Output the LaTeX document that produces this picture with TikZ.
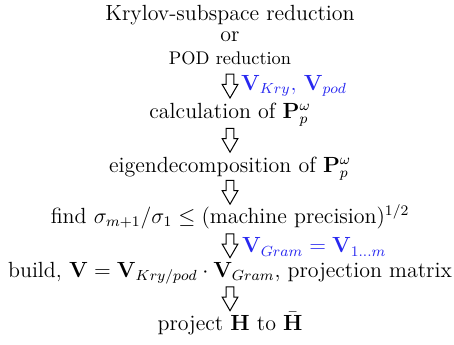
\documentclass[tikz,border=0pt]{standalone}
\usepackage{amsmath}
\usetikzlibrary{shapes.arrows}
\definecolor{lblblue}{RGB}{40,40,240}
\tikzset{
  txt/.style={anchor=base, inner sep=0pt, font=\large},
  darr/.style={single arrow, draw=black, fill=white, line width=0.55pt, shape border rotate=270,
    minimum height=13pt, minimum width=8pt, single arrow head extend=2.2pt,
    single arrow tip angle=60, inner sep=1.8pt},
  lbl/.style={anchor=base west, inner sep=0pt, text=lblblue, font=\large}
}
\begin{document}
\begin{tikzpicture}[x=1pt,y=1pt]
\useasboundingbox (0,0) rectangle (248.1,-188.5);
\node[txt] (kry) at (125.7,-10.93) {Krylov-subspace reduction};
\node[txt] (or) at (125.7,-22.79) {or};
\node[txt,font=\normalsize] (pod) at (125.7,-35.14) {POD reduction};
\node[darr] (a1) at (125.7,-45.27) {};
\node[lbl] (l1) at (131.6,-49.56) {$\mathbf{V}_{Kry},\,\mathbf{V}_{pod}$};
\node[txt] (calc) at (125.7,-64.48) {calculation of $\mathbf{P}_p^{\omega}$};
\node[darr] (a2) at (125.7,-74.86) {};
\node[txt] (eig) at (125.7,-93.99) {eigendecomposition of $\mathbf{P}_p^{\omega}$};
\node[darr] (a3) at (125.7,-103.28) {};
\node[txt] (find) at (125.7,-121.86) {find $\sigma_{m+1}/\sigma_1 \leq (\text{machine precision})^{1/2}$};
\node[darr] (a4) at (125.7,-132.51) {};
\node[lbl] (l4) at (132.1,-138.25) {$\mathbf{V}_{Gram}=\mathbf{V}_{1\ldots m}$};
\node[txt] (build) at (125.7,-151.37) {build, $\mathbf{V}=\mathbf{V}_{Kry/pod}\cdot\mathbf{V}_{Gram}$, projection matrix};
\node[darr] (a5) at (125.7,-161.48) {};
\node[txt] (proj) at (125.7,-180.33) {project $\mathbf{H}$ to $\bar{\mathbf{H}}$};
\end{tikzpicture}
\end{document}
